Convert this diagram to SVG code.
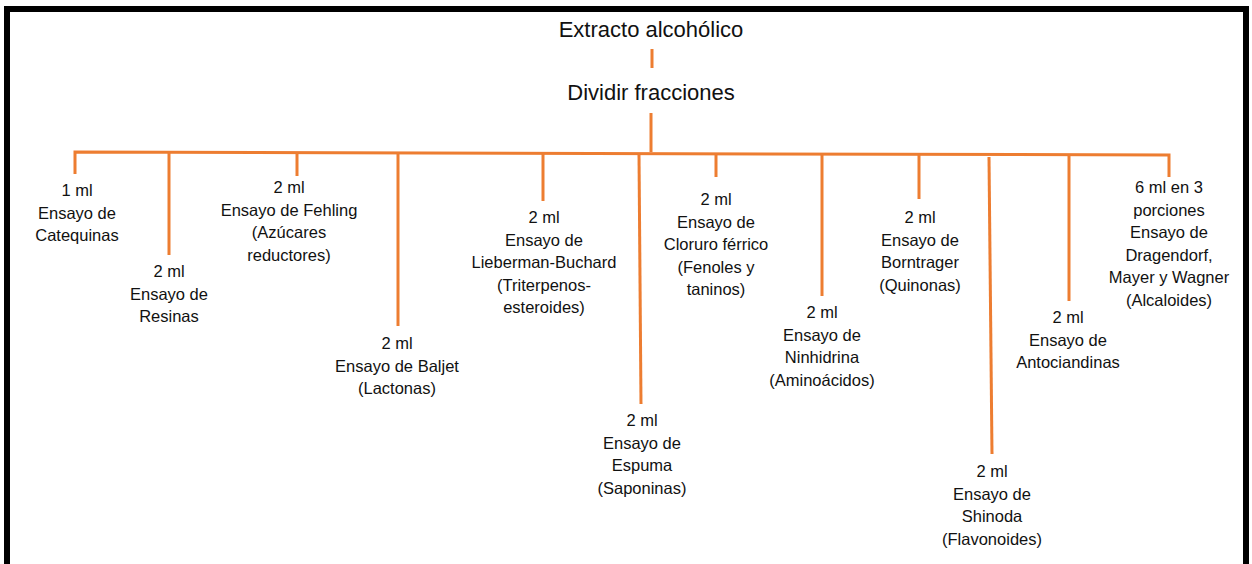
<svg xmlns="http://www.w3.org/2000/svg" width="1252" height="564" viewBox="0 0 1252 564">
<style>
text{font-family:"Liberation Sans",Arial,sans-serif;fill:#111;text-anchor:middle}
.t{font-size:22px}
.l{font-size:16.5px}
.c{stroke:#ED7D31;stroke-width:3;fill:none}
</style>
<rect x="0" y="0" width="1252" height="564" fill="#fff"/>
<path d="M7,564 V9 H1246 V564" fill="none" stroke="#000" stroke-width="6"/>
<g id="connectors" class="c">
<path d="M652,49 V68"/>
<path d="M651,113 V152"/>
<path d="M75,174 V152 L1169,155 V177"/>
<path d="M169,152 V255"/>
<path d="M297,153 V176"/>
<path d="M398,153 V326"/>
<path d="M543,154 V201"/>
<path d="M639,154 L641,404"/>
<path d="M716,154 V177"/>
<path d="M822,155 V296"/>
<path d="M919,155 V199"/>
<path d="M989,157 L992,454"/>
<path d="M1069,156 V301"/>
</g>
<g id="extracto"><text class="t" x="651" y="37">Extracto alcohólico</text></g>
<g id="dividir"><text class="t" x="651" y="100">Dividir fracciones</text></g>
<g id="catequinas"><text class="l" x="77" y="196"><tspan x="77">1 ml</tspan><tspan x="77" dy="22.5">Ensayo de</tspan><tspan x="77" dy="22.5">Catequinas</tspan></text></g>
<g id="resinas"><text class="l" x="169" y="277"><tspan x="169">2 ml</tspan><tspan x="169" dy="22.5">Ensayo de</tspan><tspan x="169" dy="22.5">Resinas</tspan></text></g>
<g id="fehling"><text class="l" x="289" y="193"><tspan x="289">2 ml</tspan><tspan x="289" dy="22.5">Ensayo de Fehling</tspan><tspan x="289" dy="22.5">(Azúcares</tspan><tspan x="289" dy="22.5">reductores)</tspan></text></g>
<g id="baljet"><text class="l" x="397" y="349"><tspan x="397">2 ml</tspan><tspan x="397" dy="22.5">Ensayo de Baljet</tspan><tspan x="397" dy="22.5">(Lactonas)</tspan></text></g>
<g id="lieberman"><text class="l" x="544" y="223"><tspan x="544">2 ml</tspan><tspan x="544" dy="22.5">Ensayo de</tspan><tspan x="544" dy="22.5">Lieberman-Buchard</tspan><tspan x="544" dy="22.5">(Triterpenos-</tspan><tspan x="544" dy="22.5">esteroides)</tspan></text></g>
<g id="espuma"><text class="l" x="642" y="426"><tspan x="642">2 ml</tspan><tspan x="642" dy="22.5">Ensayo de</tspan><tspan x="642" dy="22.5">Espuma</tspan><tspan x="642" dy="22.5">(Saponinas)</tspan></text></g>
<g id="cloruro"><text class="l" x="716" y="205"><tspan x="716">2 ml</tspan><tspan x="716" dy="22.5">Ensayo de</tspan><tspan x="716" dy="22.5">Cloruro férrico</tspan><tspan x="716" dy="22.5">(Fenoles y</tspan><tspan x="716" dy="22.5">taninos)</tspan></text></g>
<g id="ninhidrina"><text class="l" x="822" y="318"><tspan x="822">2 ml</tspan><tspan x="822" dy="22.5">Ensayo de</tspan><tspan x="822" dy="22.5">Ninhidrina</tspan><tspan x="822" dy="22.5">(Aminoácidos)</tspan></text></g>
<g id="borntrager"><text class="l" x="920" y="223"><tspan x="920">2 ml</tspan><tspan x="920" dy="22.5">Ensayo de</tspan><tspan x="920" dy="22.5">Borntrager</tspan><tspan x="920" dy="22.5">(Quinonas)</tspan></text></g>
<g id="shinoda"><text class="l" x="992" y="477"><tspan x="992">2 ml</tspan><tspan x="992" dy="22.5">Ensayo de</tspan><tspan x="992" dy="22.5">Shinoda</tspan><tspan x="992" dy="22.5">(Flavonoides)</tspan></text></g>
<g id="antociandinas"><text class="l" x="1068" y="323"><tspan x="1068">2 ml</tspan><tspan x="1068" dy="22.5">Ensayo de</tspan><tspan x="1068" dy="22.5">Antociandinas</tspan></text></g>
<g id="alcaloides"><text class="l" x="1169" y="193"><tspan x="1169">6 ml en 3</tspan><tspan x="1169" dy="22.5">porciones</tspan><tspan x="1169" dy="22.5">Ensayo de</tspan><tspan x="1169" dy="22.5">Dragendorf,</tspan><tspan x="1169" dy="22.5">Mayer y Wagner</tspan><tspan x="1169" dy="22.5">(Alcaloides)</tspan></text></g>
</svg>
